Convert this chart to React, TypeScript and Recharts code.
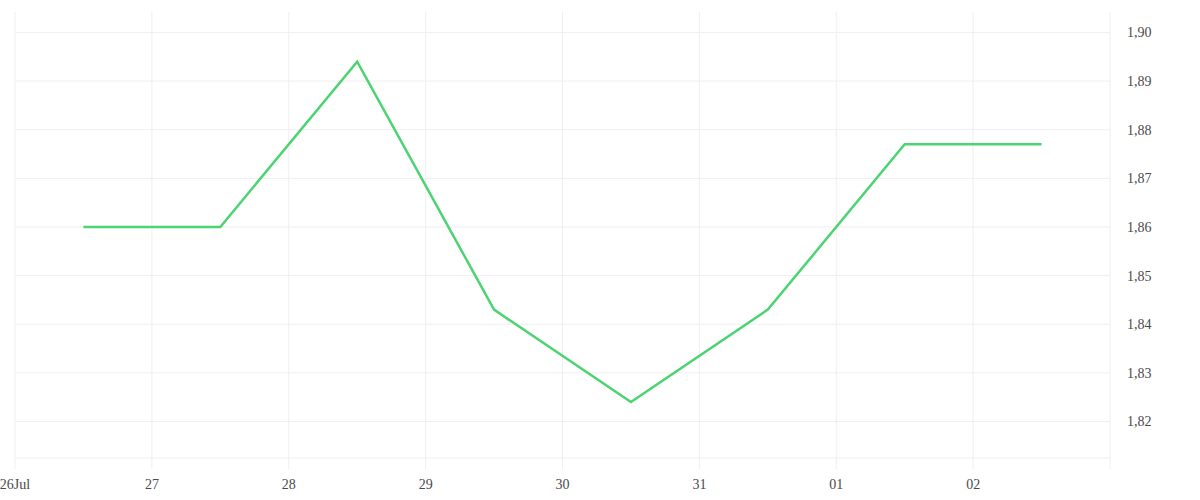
import { LineChart, Line, XAxis, YAxis, CartesianGrid } from 'recharts';

// days since 26 Jul; points sit at midday
const dayOffsets = [0.5, 1.5, 2.5, 3.5, 4.5, 5.5, 6.5, 7.5];
const prices = [1.86, 1.86, 1.894, 1.843, 1.824, 1.843, 1.877, 1.877];
const xTicks = [0, 1, 2, 3, 4, 5, 6, 7, 8];
const xTickLabels = ['26Jul', '27', '28', '29', '30', '31', '01', '02', ''];
const yTicks = [1.82, 1.83, 1.84, 1.85, 1.86, 1.87, 1.88, 1.89, 1.9];

const data = dayOffsets.map((d, i) => ({ day: d, price: prices[i] }));

const gridColor = '#efefef';
const tickStyle = { fontSize: 14, fill: '#4a4a4a', fontFamily: '"Liberation Serif", serif' };

export default function App() {
  return (
    <div style={{ width: 1200, height: 500 }}>
      <style>{'body{margin:0}'}</style>
      <LineChart width={1200} height={500} data={data} margin={{ top: 12, right: 0, left: 15, bottom: 12 }}>
        <CartesianGrid stroke={gridColor} syncWithTicks />
        <XAxis
          dataKey="day"
          type="number"
          domain={[0, 8]}
          ticks={xTicks}
          tickFormatter={(v: number) => xTickLabels[v] ?? ''}
          tick={tickStyle}
          tickSize={11}
          tickMargin={10}
          tickLine={{ stroke: gridColor }}
          axisLine={{ stroke: gridColor }}
          height={30}
          interval={0}
        />
        <YAxis
          orientation="right"
          type="number"
          domain={[1.8125, 1.9042]}
          ticks={yTicks}
          tickFormatter={(v: number) => v.toFixed(2).replace('.', ',')}
          tick={tickStyle}
          tickLine={false}
          axisLine={false}
          tickSize={6}
          tickMargin={11}
          width={90}
          allowDataOverflow
        />
        <Line
          type="linear"
          dataKey="price"
          stroke="#4cd372"
          strokeWidth={2.5}
          dot={false}
          activeDot={false}
          isAnimationActive={false}
        />
      </LineChart>
    </div>
  );
}
